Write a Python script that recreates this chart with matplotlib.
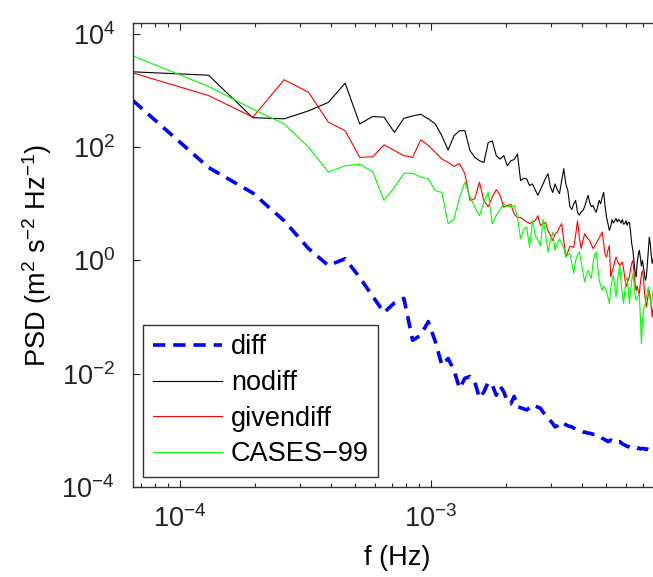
import numpy as np
import matplotlib
matplotlib.use('Agg')
import matplotlib.pyplot as plt
from matplotlib.ticker import LogLocator, NullFormatter

plt.rcParams['font.family'] = ['Liberation Sans', 'DejaVu Sans']
plt.rcParams['mathtext.fontset'] = 'custom'
plt.rcParams['mathtext.rm'] = 'Liberation Sans'
plt.rcParams['mathtext.it'] = 'Liberation Sans:italic'
plt.rcParams['mathtext.default'] = 'regular'

# frequency grid: 1-min samples, 256 points -> df = 1/15360 Hz
freq = np.arange(1, 129) / 15360.0

# log10(PSD), one value per frequency bin
nodiff_log10 = [3.33, 3.27, 2.52, 2.50, 2.64, 2.79, 3.13, 2.41, 2.54, 2.53,
                2.26, 2.51, 2.55, 2.58, 2.50, 2.41, 2.20, 1.95, 2.20, 2.29,
                2.29, 1.94, 1.82, 1.76, 1.73, 2.08, 2.11, 1.85, 1.79, 1.85,
                1.67, 1.76, 1.78, 1.88, 1.41, 1.45, 1.44, 1.32, 1.35, 1.25,
                1.15, 1.25, 1.35, 1.45, 1.53, 1.30, 1.20, 1.35, 1.25, 1.18,
                1.40, 1.62, 1.35, 1.23, 0.95, 0.90, 1.00, 1.06, 0.85, 0.80,
                0.86, 0.88, 0.95, 1.05, 1.15, 1.02, 0.95, 0.97, 0.90, 0.85,
                0.95, 1.06, 1.00, 1.12, 1.20, 0.95, 0.76, 0.65, 0.53, 0.60,
                0.72, 0.66, 0.70, 0.74, 0.68, 0.72, 0.70, 0.66, 0.72, 0.64,
                0.65, 0.70, 0.62, 0.67, 0.67, 0.50, 0.30, 0.18, 0.00, -0.20,
                -0.29, -0.05, 0.10, 0.18, 0.05, -0.10, 0.00, -0.12, -0.25, -0.35,
                -0.29, -0.05, 0.20, 0.41, 0.30, 0.10, -0.05, 0.00, 0.15, -0.10,
                0.05, -0.20, 0.10, -0.05, -0.25, 0.00, -0.15, -0.10]

givendiff_log10 = [3.31, 2.91, 2.53, 3.19, 2.97, 2.44, 2.29, 1.82, 1.83, 2.04,
                   1.94, 1.85, 1.82, 2.13, 2.03, 1.91, 1.79, 1.73, 1.66, 1.71,
                   1.53, 1.06, 1.09, 1.38, 1.05, 0.95, 1.12, 1.25, 1.15, 0.94,
                   0.97, 0.99, 0.82, 0.76, 0.76, 0.72, 0.68, 0.65, 0.68, 0.70,
                   0.79, 0.62, 0.65, 0.67, 0.52, 0.45, 0.35, 0.47, 0.50, 0.58,
                   0.65, 0.35, 0.06, 0.15, 0.25, 0.24, 0.23, 0.45, 0.70, 0.40,
                   0.21, 0.35, 0.47, 0.42, 0.38, 0.35, 0.28, 0.21, 0.25, 0.30,
                   0.35, 0.40, 0.45, 0.50, 0.30, 0.10, 0.06, 0.18, 0.26, -0.29,
                   -0.20, -0.12, -0.02, 0.06, 0.00, -0.05, -0.09, -0.05, -0.03, -0.15,
                   -0.30, -0.47, -0.40, -0.35, -0.29, -0.15, -0.05, 0.00, -0.20, -0.40,
                   -0.53, -0.45, -0.55, -0.59, -0.40, -0.25, -0.18, -0.30, -0.55, -0.70,
                   -0.82, -0.70, -0.60, -0.53, -0.65, -0.80, -1.00, -0.85, -0.70, -1.10,
                   -0.90, -0.75, -1.05, -0.95, -0.80, -1.15, -0.90, -1.00]

cases99_log10 = [3.61, 3.07, 2.67, 2.41, 2.00, 1.56, 1.67, 1.70, 1.57, 1.06,
                 1.29, 1.54, 1.54, 1.47, 1.44, 1.23, 1.20, 0.65, 0.73, 1.12,
                 1.38, 1.12, 0.94, 0.79, 1.03, 1.20, 0.65, 0.80, 0.90, 1.00,
                 0.95, 0.95, 0.97, 0.76, 0.38, 0.55, 0.59, 0.23, 0.70, 0.45,
                 0.35, 0.26, 0.73, 0.47, 0.15, 0.35, 0.50, 0.18, 0.30, 0.38,
                 0.30, 0.23, 0.06, 0.10, 0.12, -0.05, -0.23, 0.00, 0.10, 0.15,
                 -0.03, -0.20, -0.38, -0.25, -0.18, -0.25, -0.32, -0.05, 0.10, 0.15,
                 -0.10, -0.35, -0.45, -0.53, -0.45, -0.50, -0.55, -0.65, -0.76, -0.50,
                 -0.35, -0.26, -0.45, -0.65, -0.40, -0.20, -0.09, -0.40, -0.60, -0.76,
                 -0.55, -0.35, -0.29, -0.50, -0.76, -0.55, -0.35, -0.23, -0.40, -0.60,
                 -0.70, -0.65, -0.62, -0.59, -1.00, -1.47, -1.10, -0.90, -0.80, -0.76,
                 -0.65, -0.55, -0.47, -0.60, -0.70, -0.82, -0.65, -0.53, -0.80, -1.00,
                 -0.70, -0.90, -1.20, -0.85, -0.95, -1.10, -0.75, -1.00]

diff_log10 = [2.82, 1.64, 1.19, 0.70, 0.21, -0.09, 0.03, -0.30, -0.63, -0.92,
              -0.75, -0.67, -1.41, -1.32, -1.08, -1.43, -1.85, -1.73, -1.94, -2.26,
              -2.08, -2.05, -2.15, -2.43, -2.32, -2.15, -2.20, -2.38, -2.22, -2.32,
              -2.50, -2.53, -2.40, -2.58, -2.60, -2.62, -2.64, -2.60, -2.55, -2.57,
              -2.59, -2.61, -2.68, -2.73, -2.78, -2.83, -2.88, -2.94, -2.92, -2.88,
              -2.85, -2.88, -2.90, -2.92, -2.93, -2.94, -2.96, -2.98, -3.00, -3.01,
              -3.02, -3.03, -3.03, -3.04, -3.05, -3.05, -3.06, -3.07, -3.07, -3.08,
              -3.10, -3.11, -3.12, -3.14, -3.15, -3.17, -3.18, -3.20, -3.19, -3.17,
              -3.18, -3.19, -3.18, -3.20, -3.21, -3.20, -3.20, -3.22, -3.24, -3.25,
              -3.26, -3.27, -3.28, -3.29, -3.29, -3.30, -3.30, -3.31, -3.30, -3.31,
              -3.31, -3.32, -3.31, -3.32, -3.33, -3.32, -3.32, -3.32, -3.33, -3.33,
              -3.34, -3.33, -3.34, -3.34, -3.35, -3.34, -3.35, -3.35, -3.36, -3.35,
              -3.36, -3.36, -3.37, -3.36, -3.37, -3.37, -3.38, -3.38]

fig = plt.figure(figsize=(6.53, 5.77), dpi=100)
ax = fig.add_axes([0.2037, 0.156, 0.810, 0.804])

ax.loglog(freq, 10 ** np.array(diff_log10), color='#0000ff', lw=2.6,
          linestyle=(0, (3.4, 2.2)), label='diff')
ax.loglog(freq, 10 ** np.array(nodiff_log10), color='k', lw=0.8, label='nodiff')
ax.loglog(freq, 10 ** np.array(givendiff_log10), color='#ff0000', lw=0.8, label='givendiff')
ax.loglog(freq, 10 ** np.array(cases99_log10), color='#00ff00', lw=0.8, label='CASES\u221299')

ax.set_xlim(freq[0], freq[-1])
ax.set_ylim(1e-4, 1.55e4)
ax.set_yticks([1e-4, 1e-2, 1e0, 1e2, 1e4])
ax.yaxis.set_minor_locator(plt.NullLocator())
ax.set_xticks([1e-4, 1e-3])
ax.xaxis.set_minor_locator(LogLocator(base=10, subs=np.arange(2, 10)))
ax.xaxis.set_minor_formatter(NullFormatter())

ax.tick_params(which='both', direction='in', top=True, right=True, labelsize=19.5,
               colors='#222222')
ax.tick_params(which='major', length=5, width=0.8, pad=13)
ax.tick_params(which='minor', length=3, width=0.8)
for s in ax.spines.values():
    s.set_color('#333333')
    s.set_linewidth(1.0)

ax.set_xlabel('f (Hz)', fontsize=19.5, labelpad=9)
ax.set_ylabel('PSD (m$^2$ s$^{-2}$ Hz$^{-1}$)', fontsize=19.5, labelpad=5)

leg = ax.legend(loc='lower left', bbox_to_anchor=(0.019, 0.0216), borderaxespad=0,
                fontsize=19.5, fancybox=False, framealpha=1, edgecolor='#333333',
                handlelength=2.55, handletextpad=0.35, labelspacing=0.36,
                borderpad=0.35)
leg.get_frame().set_linewidth(1.0)

fig.savefig('out.png', dpi=100)
